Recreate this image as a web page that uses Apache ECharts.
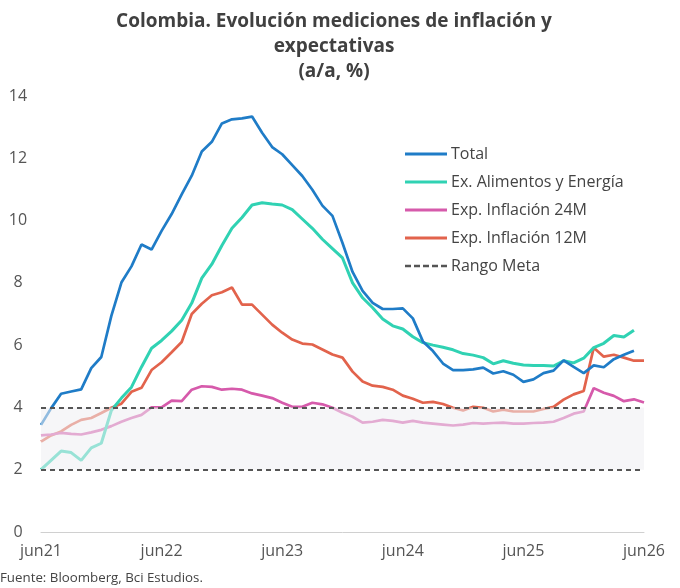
<!DOCTYPE html>
<html>
<head>
<meta charset="utf-8">
<script src="https://cdn.jsdelivr.net/npm/echarts@6/dist/echarts.min.js"></script>
<style>
  html, body { margin: 0; padding: 0; background: #ffffff; }
  #chart { width: 680px; height: 588px; }
</style>
</head>
<body>
<div id="chart"></div>
<script>
// Months from jun21 (index 0) to jun26 (index 60)
const tickLabels = ['jun21', 'jun22', 'jun23', 'jun24', 'jun25', 'jun26'];

const total = [3.44, 3.97, 4.44, 4.51, 4.58, 5.26, 5.62, 6.94, 8.01, 8.53,
  9.23, 9.07, 9.67, 10.21, 10.84, 11.44, 12.22, 12.53, 13.12, 13.25,
  13.28, 13.34, 12.82, 12.36, 12.13, 11.78, 11.43, 10.99, 10.48, 10.15,
  9.28, 8.35, 7.74, 7.36, 7.16, 7.16, 7.18, 6.86, 6.12, 5.81,
  5.41, 5.20, 5.20, 5.22, 5.28, 5.09, 5.16, 5.05, 4.82, 4.90,
  5.10, 5.18, 5.51, 5.30, 5.10, 5.35, 5.29, 5.55, 5.69, 5.82];

const exAlimEnergia = [2.0, 2.3, 2.6, 2.55, 2.3, 2.7, 2.85, 3.9, 4.3, 4.65,
  5.3, 5.9, 6.15, 6.45, 6.8, 7.35, 8.15, 8.6, 9.2, 9.75,
  10.1, 10.5, 10.57, 10.53, 10.5, 10.35, 10.05, 9.75, 9.4, 9.1,
  8.8, 8.0, 7.52, 7.2, 6.84, 6.62, 6.52, 6.27, 6.08, 6.0,
  5.93, 5.85, 5.73, 5.68, 5.6, 5.4, 5.5, 5.42, 5.36, 5.35,
  5.35, 5.33, 5.5, 5.43, 5.58, 5.92, 6.06, 6.31, 6.26, 6.48];

const expInfl24M = [3.1, 3.13, 3.18, 3.15, 3.13, 3.2, 3.28, 3.4, 3.54, 3.66,
  3.76, 4.0, 4.0, 4.22, 4.2, 4.57, 4.68, 4.66, 4.57, 4.6,
  4.57, 4.45, 4.38, 4.3, 4.15, 4.02, 4.02, 4.15, 4.1, 3.99,
  3.83, 3.7, 3.51, 3.54, 3.6, 3.57, 3.51, 3.57, 3.51, 3.48,
  3.45, 3.42, 3.45, 3.5, 3.48, 3.5, 3.51, 3.48, 3.48, 3.5,
  3.51, 3.54, 3.66, 3.8, 3.87, 4.62, 4.47, 4.37, 4.2, 4.26, 4.16];

const expInfl12M = [2.9, 3.1, 3.23, 3.44, 3.6, 3.66, 3.82, 3.99, 4.12, 4.5,
  4.63, 5.2, 5.45, 5.77, 6.1, 7.0, 7.33, 7.6, 7.7, 7.85,
  7.3, 7.3, 6.98, 6.66, 6.4, 6.18, 6.05, 6.02, 5.86, 5.7,
  5.6, 5.15, 4.83, 4.7, 4.66, 4.57, 4.38, 4.28, 4.15, 4.18,
  4.11, 3.99, 3.9, 4.02, 3.99, 3.87, 3.93, 3.87, 3.87, 3.87,
  3.95, 4.02, 4.25, 4.42, 4.53, 5.92, 5.63, 5.69, 5.6, 5.5, 5.5];

const rangoMeta = [2, 4];

const titleText = 'Colombia. Evolución mediciones de inflación y\nexpectativas\n(a/a, %)';
const sourceText = 'Fuente: Bloomberg, Bci Estudios.';
const seriesNames = ['Total', 'Ex. Alimentos y Energía', 'Exp. Inflación 24M', 'Exp. Inflación 12M', 'Rango Meta'];
const colors = ['#1f7cc7', '#30d2b3', '#d65aab', '#e2634c', '#555555'];

function pairs(arr) { return arr.map((v, i) => [i, v]); }

// legend icons: a 3px bar centred in a 42x14 box (tiny corner specks keep the box size)
const solidIcon = 'path://M0,0h0.01v0.01h-0.01z M0,5.5h42v3h-42z M41.99,13.99h0.01v0.01h-0.01z';
const dashIcon = 'path://M0,0h0.01v0.01h-0.01z M0,5.8h6v2.4h-6z M9,5.8h6v2.4h-6z M18,5.8h6v2.4h-6z M27,5.8h6v2.4h-6z M36,5.8h6v2.4h-6z M41.99,13.99h0.01v0.01h-0.01z';

const FONT = 'Open Sans';
const chart = echarts.init(document.getElementById('chart'), null, { renderer: 'canvas' });

const option = {
  backgroundColor: '#ffffff',
  animation: false,
  textStyle: { fontFamily: FONT },
  legend: {
    orient: 'vertical',
    left: 405,
    top: 146,
    padding: 0,
    itemWidth: 42,
    itemHeight: 14,
    itemGap: 12,
    textStyle: { fontFamily: FONT, fontSize: 16, letterSpacing: 0.3, color: '#444444', padding: [0, 0, 0, -1] },
    data: seriesNames.map((n, i) => ({ name: n, icon: i === 4 ? dashIcon : solidIcon, itemStyle: { color: colors[i] } }))
  },
  grid: { left: 41, right: 36, top: 96, bottom: 56, containLabel: false },
  xAxis: {
    type: 'value',
    min: 0,
    max: 60,
    interval: 12,
    splitLine: { show: false },
    axisTick: { show: false },
    axisLine: { show: true, lineStyle: { color: '#d0d0d0', width: 1 } },
    axisLabel: {
      margin: 11,
      fontFamily: FONT,
      fontSize: 16,
      color: '#555555',
      formatter: v => tickLabels[Math.round(v / 12)]
    }
  },
  yAxis: {
    type: 'value',
    min: 0,
    max: 14,
    interval: 2,
    splitLine: { show: false },
    axisTick: { show: false },
    axisLine: { show: false },
    axisLabel: { margin: 23, align: 'center', fontFamily: FONT, fontSize: 16, color: '#555555' }
  },
  series: [
    {
      name: seriesNames[3], type: 'line', data: pairs(expInfl12M), symbol: 'none', z: 2,
      lineStyle: { color: colors[3], width: 2.7 }, itemStyle: { color: colors[3] }
    },
    {
      name: seriesNames[2], type: 'line', data: pairs(expInfl24M), symbol: 'none', z: 2,
      lineStyle: { color: colors[2], width: 2.7 }, itemStyle: { color: colors[2] }
    },
    {
      name: seriesNames[1], type: 'line', data: pairs(exAlimEnergia), symbol: 'none', z: 2,
      lineStyle: { color: colors[1], width: 3 }, itemStyle: { color: colors[1] }
    },
    {
      name: seriesNames[0], type: 'line', data: pairs(total), symbol: 'none', z: 2,
      lineStyle: { color: colors[0], width: 2.7 }, itemStyle: { color: colors[0] }
    },
    {
      name: seriesNames[4], type: 'line', data: [], symbol: 'none', z: 5,
      lineStyle: { color: colors[4], width: 2, type: [5, 4] }, itemStyle: { color: colors[4] },
      markArea: {
        silent: true,
        z: 10,
        itemStyle: { color: 'rgba(238,238,242,0.55)' },
        data: [[{ yAxis: rangoMeta[0] }, { yAxis: rangoMeta[1] }]]
      },
      markLine: {
        silent: true,
        z: 11,
        symbol: 'none',
        label: { show: false },
        lineStyle: { color: '#555555', width: 2, type: [5, 4] },
        data: rangoMeta.map(v => ({ yAxis: v }))
      }
    }
  ],
  graphic: [
    {
      type: 'text', x: 334, y: 9,
      style: {
        text: titleText, fontFamily: FONT, fontSize: 19, fontWeight: 'bold', fill: '#404040',
        lineHeight: 25, textAlign: 'center', textVerticalAlign: 'top'
      }
    },
    {
      type: 'text', left: 0, top: 572,
      style: { text: sourceText, fontFamily: FONT, fontSize: 13.3, fill: '#444444' }
    }
  ]
};
chart.setOption(option);
</script>
</body>
</html>
